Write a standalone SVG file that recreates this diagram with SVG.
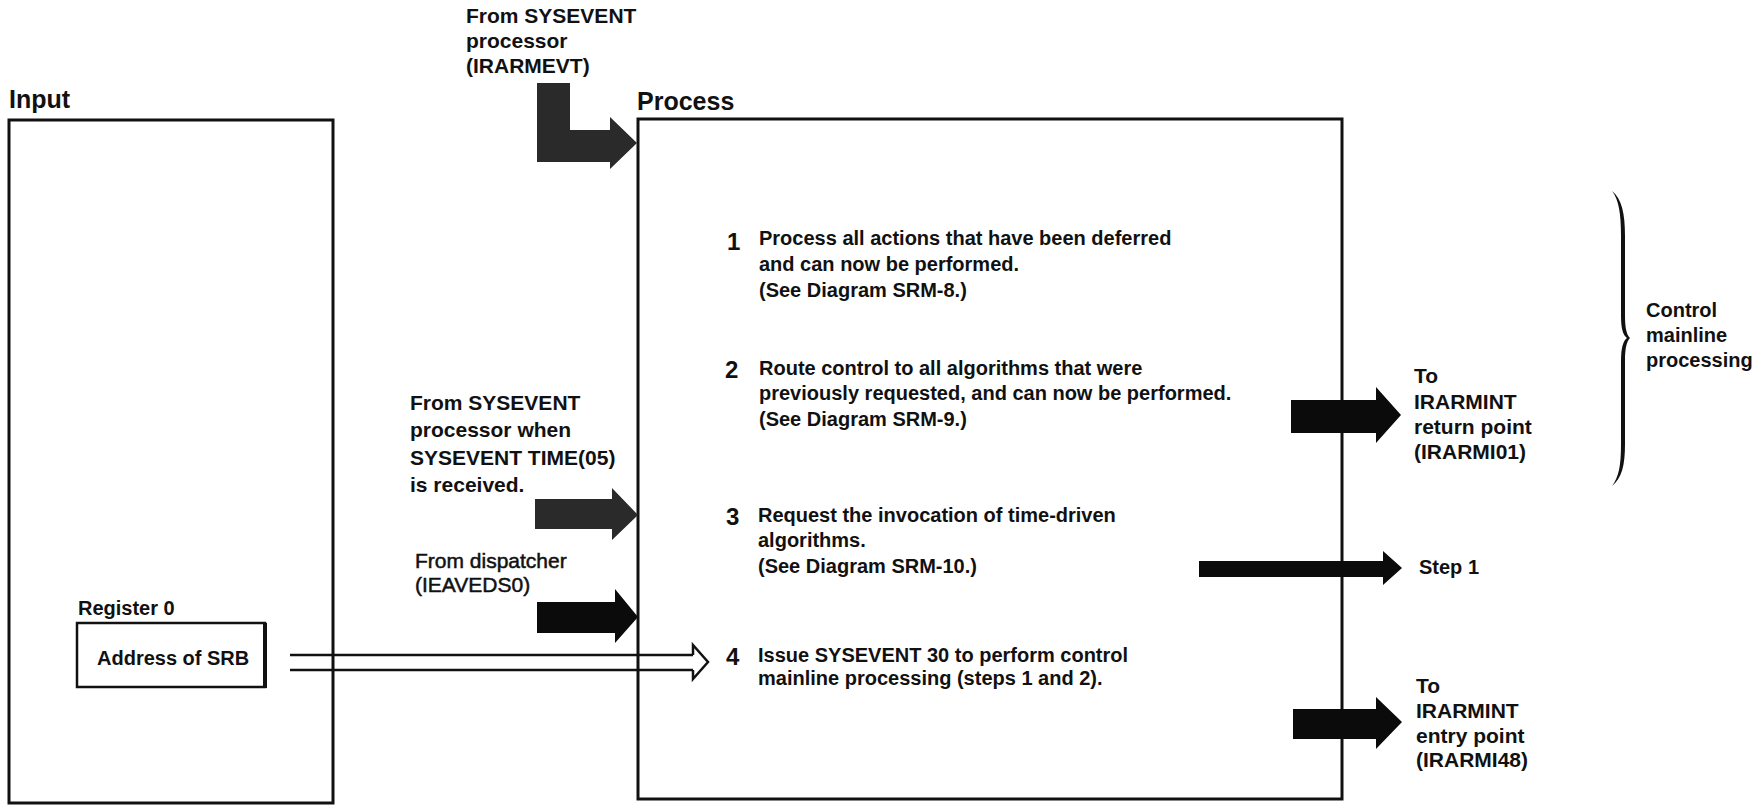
<svg xmlns="http://www.w3.org/2000/svg" width="1762" height="806" viewBox="0 0 1762 806">
  <style>
    text { font-family: "Liberation Sans", Arial, sans-serif; fill: #111; font-weight: bold; }
    .title { font-size: 25px; }
    .lbl { font-size: 21px; }
    .lbl-thin { font-size: 21px; font-weight: normal; stroke: #111; stroke-width: 0.5; }
    .txt { font-size: 20px; }
    .num { font-size: 24px; }
    .panel { fill: none; stroke: #111; stroke-width: 3; }
    .field { fill: #fff; stroke: #111; stroke-width: 2.5; }
    .solid { fill: #0b0b0b; stroke: none; }
    .solid-grey { fill: #2a2a2a; stroke: none; }
    .hollow { fill: none; stroke: #111; stroke-width: 2.5; stroke-linejoin: miter; }
    .brace { fill: #111; stroke: none; }
  </style>

  <rect width="1762" height="806" fill="#fff"/>

  <!-- Input panel -->
  <g id="input-panel">
    <text class="title" x="9" y="108">Input</text>
    <rect class="panel" x="9" y="120" width="324" height="683"/>
  </g>

  <!-- Register 0 field inside the input panel -->
  <g id="register0">
    <text class="txt" x="78" y="615">Register 0</text>
    <rect class="field" x="77" y="623" width="188" height="64"/>
    <line x1="265" y1="623" x2="265" y2="688" stroke="#111" stroke-width="4"/>
    <text class="txt" x="97" y="665">Address of SRB</text>
  </g>

  <!-- Process panel -->
  <g id="process-panel">
    <text class="title" x="637" y="110">Process</text>
    <rect class="panel" x="638" y="119" width="704" height="680"/>
  </g>

  <!-- Numbered process steps -->
  <g id="step1">
    <text class="num" x="727" y="250">1</text>
    <text class="txt" y="245">
      <tspan x="759">Process all actions that have been deferred</tspan>
      <tspan x="759" dy="26">and can now be performed.</tspan>
      <tspan x="759" dy="26">(See Diagram SRM-8.)</tspan>
    </text>
  </g>
  <g id="step2">
    <text class="num" x="725" y="378">2</text>
    <text class="txt" y="375">
      <tspan x="759">Route control to all algorithms that were</tspan>
      <tspan x="759" dy="25">previously requested, and can now be performed.</tspan>
      <tspan x="759" dy="26">(See Diagram SRM-9.)</tspan>
    </text>
  </g>
  <g id="step3">
    <text class="num" x="726" y="525">3</text>
    <text class="txt" y="522">
      <tspan x="758">Request the invocation of time-driven</tspan>
      <tspan x="758" dy="25">algorithms.</tspan>
      <tspan x="758" dy="26">(See Diagram SRM-10.)</tspan>
    </text>
  </g>
  <g id="step4">
    <text class="num" x="726" y="665">4</text>
    <text class="txt" y="662">
      <tspan x="758">Issue SYSEVENT 30 to perform control</tspan>
      <tspan x="758" dy="23">mainline processing (steps 1 and 2).</tspan>
    </text>
  </g>

  <!-- Entry sources -->
  <g id="src-irarmevt">
    <text class="lbl" y="23">
      <tspan x="466">From SYSEVENT</tspan>
      <tspan x="466" dy="25">processor</tspan>
      <tspan x="466" dy="25">(IRARMEVT)</tspan>
    </text>
  </g>
  <g id="src-time05">
    <text class="lbl" y="410">
      <tspan x="410">From SYSEVENT</tspan>
      <tspan x="410" dy="27">processor when</tspan>
      <tspan x="410" dy="28">SYSEVENT TIME(05)</tspan>
      <tspan x="410" dy="27">is received.</tspan>
    </text>
  </g>
  <g id="src-dispatcher">
    <text class="lbl-thin" y="568">
      <tspan x="415">From dispatcher</tspan>
      <tspan x="415" dy="24">(IEAVEDS0)</tspan>
    </text>
  </g>

  <!-- Exit targets -->
  <g id="dst-irarmi01">
    <text class="lbl" y="383">
      <tspan x="1414">To</tspan>
      <tspan x="1414" dy="26">IRARMINT</tspan>
      <tspan x="1414" dy="25">return point</tspan>
      <tspan x="1414" dy="25">(IRARMI01)</tspan>
    </text>
  </g>
  <g id="dst-step1">
    <text class="txt" x="1419" y="574">Step 1</text>
  </g>
  <g id="dst-irarmi48">
    <text class="lbl" y="693">
      <tspan x="1416">To</tspan>
      <tspan x="1416" dy="25">IRARMINT</tspan>
      <tspan x="1416" dy="25">entry point</tspan>
      <tspan x="1416" dy="24">(IRARMI48)</tspan>
    </text>
  </g>

  <!-- Brace grouping steps 1 and 2 (filled so the arms taper to the tips) -->
  <g id="mainline-brace">
    <path class="brace" d="M1612,191 C1622,199 1625,214 1625,236 L1625,316 C1625,329 1627,335 1630,338 C1627,341 1625,347 1625,361 L1625,444 C1625,465 1622,478 1612,486 C1619,477 1621,465 1621,444 L1621,361 C1621,348 1623,341 1627,338 C1623,335 1621,329 1621,316 L1621,236 C1621,214 1619,200 1612,191 Z"/>
    <text class="txt" y="317">
      <tspan x="1646">Control</tspan>
      <tspan x="1646" dy="25">mainline</tspan>
      <tspan x="1646" dy="25">processing</tspan>
    </text>
  </g>

  <!-- Connectors -->
  <g id="connectors">
    <!-- from IRARMEVT: elbow arrow into the process panel -->
    <path class="solid-grey" d="M537,83 L570,83 L570,130 L610,130 L610,117 L637,143 L610,169 L610,162 L537,162 Z"/>
    <!-- from SYSEVENT TIME(05) -->
    <path class="solid-grey" d="M535,499 L612,499 L612,488 L638,515 L612,540 L612,529 L535,529 Z"/>
    <!-- from dispatcher -->
    <path class="solid" d="M537,602 L615,602 L615,589 L638,617 L615,643 L615,633 L537,633 Z"/>
    <!-- Register 0 data flow into step 4 -->
    <line class="hollow" x1="290" y1="655" x2="693" y2="655"/>
    <line class="hollow" x1="290" y1="670" x2="693" y2="670"/>
    <path class="hollow" d="M693,655 L693,645 L708,662 L693,679 L693,670"/>
    <!-- to IRARMI01 -->
    <path class="solid" d="M1291,400 L1376,400 L1376,387 L1401,415 L1376,443 L1376,433 L1291,433 Z"/>
    <!-- to step 1 -->
    <path class="solid" d="M1199,561 L1383,561 L1383,551 L1402,568 L1383,585 L1383,577 L1199,577 Z"/>
    <!-- to IRARMI48 -->
    <path class="solid" d="M1293,709 L1376,709 L1376,697 L1402,722 L1376,749 L1376,739 L1293,739 Z"/>
  </g>
</svg>
